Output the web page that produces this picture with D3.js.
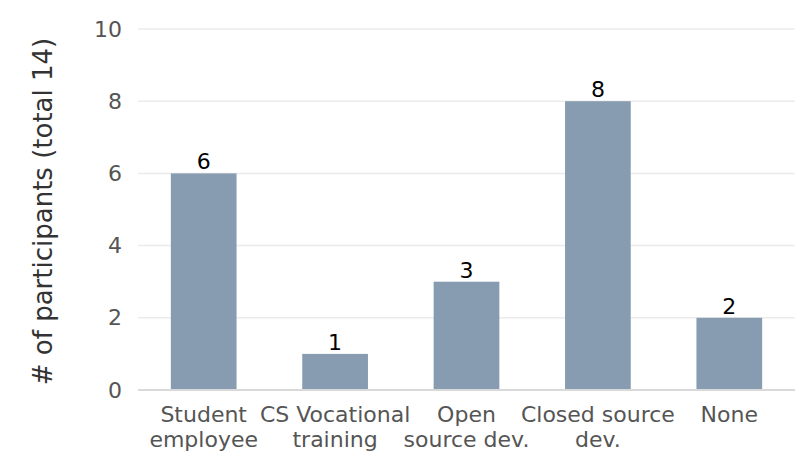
<!DOCTYPE html>
<html>
<head>
<meta charset="utf-8">
<script src="https://cdn.jsdelivr.net/npm/d3@7"></script>
<style>
  body { margin: 0; background: #fff; }
  text { font-family: "DejaVu Sans", sans-serif; }
</style>
</head>
<body>
<svg id="chart"></svg>
<script>
        // Data
        const categories = ["Student\nemployee", "CS Vocational\ntraining", "Open\nsource dev.", "Closed source\ndev.", "None"];
        const counts = [6, 1, 3, 8, 2];
        const yTicks = [0, 2, 4, 6, 8, 10];

        // Chart dimensions
        const width = 806, height = 464;
        const margin = { top: 29, right: 11, bottom: 74, left: 138 };

        const svg = d3.select("#chart")
            .attr("width", width)
            .attr("height", height);

        const x = d3.scaleBand()
            .domain(categories)
            .range([margin.left, width - margin.right])
            .paddingInner(0.5)
            .paddingOuter(0.25);

        const y = d3.scaleLinear()
            .domain([0, 10])
            .range([height - margin.bottom, margin.top]);

        // Gridlines
        svg.append("g")
            .selectAll("line")
            .data(yTicks.filter(d => d > 0))
            .join("line")
            .attr("x1", margin.left)
            .attr("x2", width - margin.right)
            .attr("y1", d => y(d))
            .attr("y2", d => y(d))
            .attr("stroke", "#ebebeb")
            .attr("stroke-width", 1.5);

        // Y axis labels
        const yAxis = svg.append("g")
            .attr("transform", `translate(${margin.left},0)`)
            .call(d3.axisLeft(y).tickValues(yTicks).tickSize(0).tickPadding(16));
        yAxis.select(".domain").remove();
        yAxis.selectAll("text")
            .attr("fill", "#555")
            .style("font-size", "22px")
            .style("font-family", "DejaVu Sans, sans-serif");

        // Bars
        svg.append("g")
            .selectAll("rect")
            .data(counts)
            .join("rect")
            .attr("x", (d, i) => x(categories[i]))
            .attr("width", x.bandwidth())
            .attr("y", d => y(d))
            .attr("height", d => y(0) - y(d))
            .attr("fill", "#879cb0");

        // Baseline
        svg.append("line")
            .attr("x1", margin.left)
            .attr("x2", width - margin.right)
            .attr("y1", y(0))
            .attr("y2", y(0))
            .attr("stroke", "#d9d9d9")
            .attr("stroke-width", 2);

        // Value labels
        svg.append("g")
            .selectAll("text")
            .data(counts)
            .join("text")
            .attr("x", (d, i) => x(categories[i]) + x.bandwidth() / 2)
            .attr("y", d => y(d) - 4)
            .attr("text-anchor", "middle")
            .attr("fill", "#000")
            .style("font-size", "22px")
            .text(d => d);

        // Category labels
        const catLabels = svg.append("g")
            .selectAll("text")
            .data(categories)
            .join("text")
            .attr("x", d => x(d) + x.bandwidth() / 2)
            .attr("y", 422)
            .attr("text-anchor", "middle")
            .attr("fill", "#555")
            .style("font-size", "22px");
        catLabels.selectAll("tspan")
            .data(d => d.split("\n"))
            .join("tspan")
            .attr("x", function () { return this.parentNode.getAttribute("x"); })
            .attr("dy", (d, i) => i === 0 ? 0 : 25)
            .text(d => d);

        // Y axis title
        svg.append("text")
            .attr("transform", `translate(52, ${(margin.top + height - margin.bottom) / 2 + 2}) rotate(-90)`)
            .attr("text-anchor", "middle")
            .attr("fill", "#333")
            .style("font-size", "26px")
            .text("# of participants (total 14)");
</script>
</body>
</html>
